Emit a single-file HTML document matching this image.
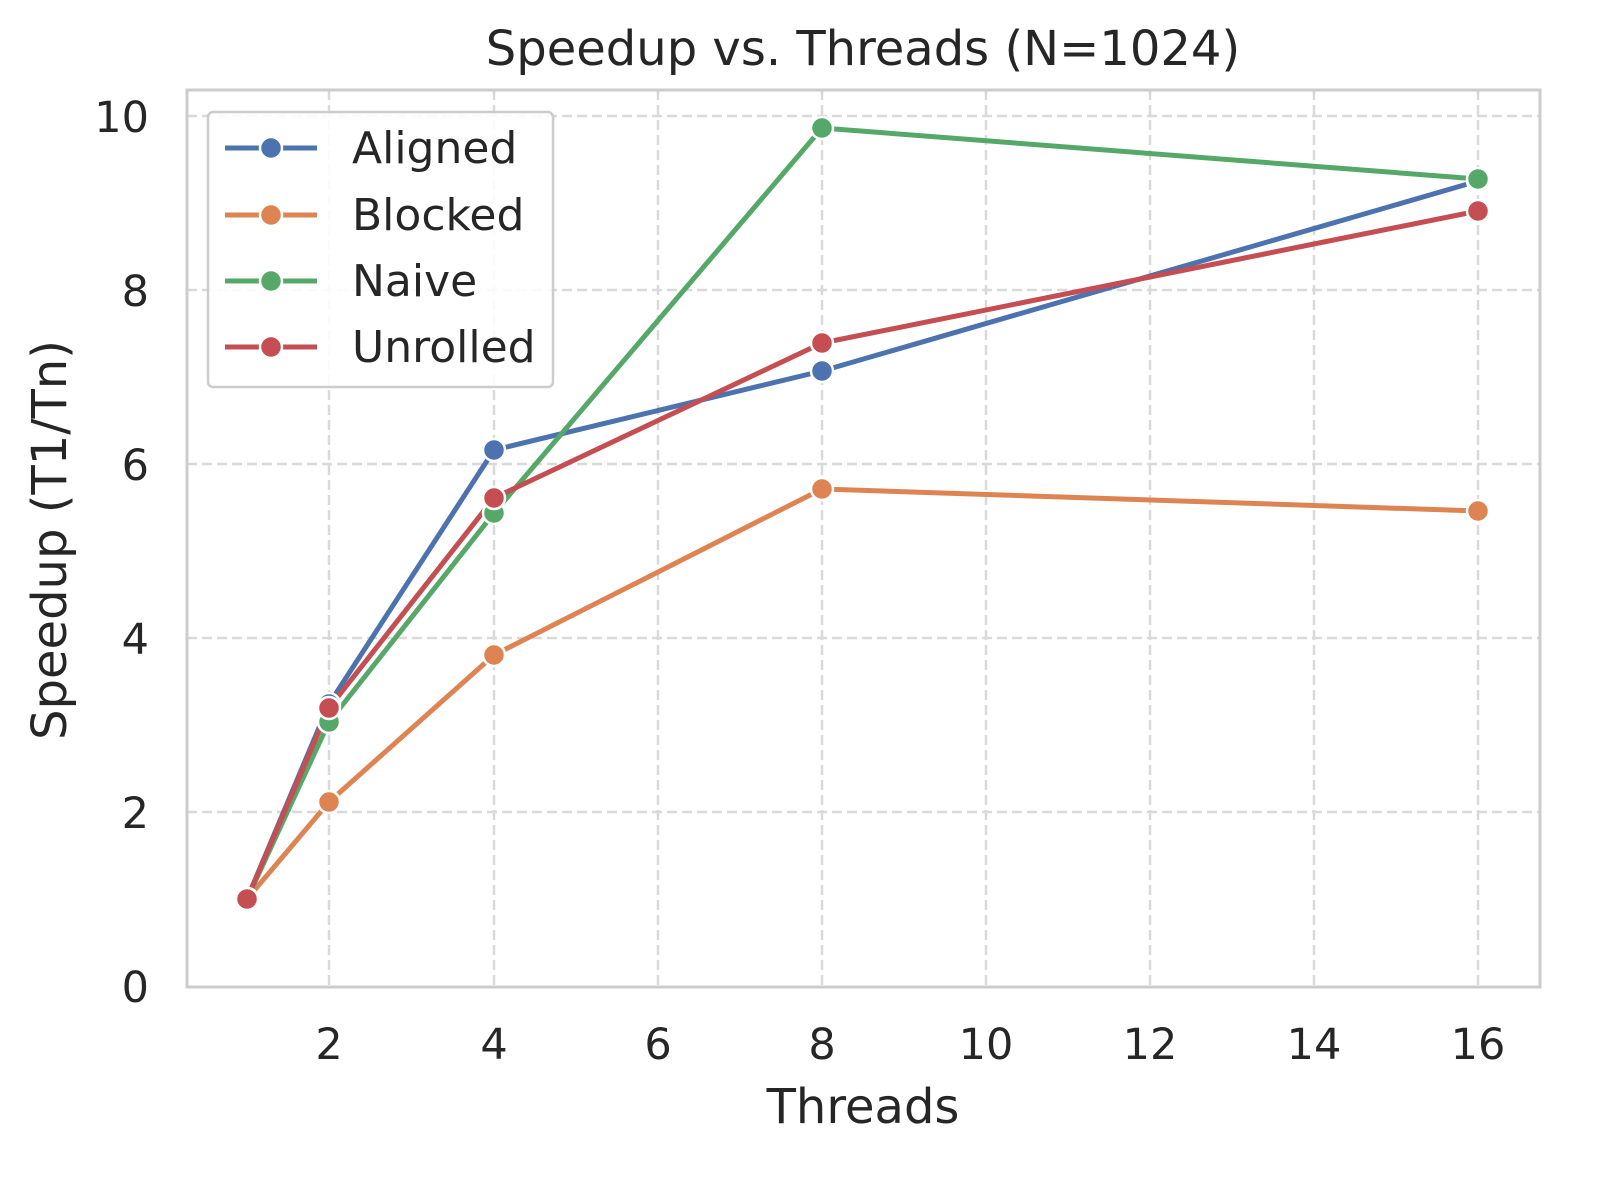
<!DOCTYPE html>
<html><head><meta charset="utf-8"><style>html,body{margin:0;padding:0;background:#fff}svg{display:block}</style></head>
<body>
<svg width="1617" height="1196" viewBox="0 0 1617 1196" xmlns="http://www.w3.org/2000/svg" font-family="'DejaVu Sans','Liberation Sans',sans-serif" fill="#262626">
<rect width="1617" height="1196" fill="#fff"/>
<g stroke="#d9d9d9" stroke-width="2.5" stroke-dasharray="10,5">
<line x1="329" y1="90" x2="329" y2="987"/><line x1="494" y1="90" x2="494" y2="987"/><line x1="658" y1="90" x2="658" y2="987"/><line x1="822" y1="90" x2="822" y2="987"/><line x1="986" y1="90" x2="986" y2="987"/><line x1="1150" y1="90" x2="1150" y2="987"/><line x1="1314" y1="90" x2="1314" y2="987"/><line x1="1478" y1="90" x2="1478" y2="987"/>
<line x1="187" y1="812" x2="1540" y2="812"/><line x1="187" y1="638" x2="1540" y2="638"/><line x1="187" y1="464" x2="1540" y2="464"/><line x1="187" y1="290" x2="1540" y2="290"/><line x1="187" y1="116" x2="1540" y2="116"/>
</g>
<rect x="187" y="90" width="1353" height="897" fill="none" stroke="#cccccc" stroke-width="3"/>
<g fill="none" stroke-width="5" stroke-linejoin="round">
<polyline stroke="#4C72B0" points="247,899 329,704 494,450 822,371 1478,181"/>
<polyline stroke="#DD8452" points="247,899 329,802 494,655 822,489 1478,511"/>
<polyline stroke="#55A868" points="247,899 329,722 494,513 822,128 1478,179"/>
<polyline stroke="#C44E52" points="247,899 329,708 494,498 822,343 1478,211"/>
</g>
<g stroke="#fff" stroke-width="2.5">
<g fill="#4C72B0"><circle cx="247" cy="899" r="11"/><circle cx="329" cy="704" r="11"/><circle cx="494" cy="450" r="11"/><circle cx="822" cy="371" r="11"/><circle cx="1478" cy="181" r="11"/></g>
<g fill="#DD8452"><circle cx="247" cy="899" r="11"/><circle cx="329" cy="802" r="11"/><circle cx="494" cy="655" r="11"/><circle cx="822" cy="489" r="11"/><circle cx="1478" cy="511" r="11"/></g>
<g fill="#55A868"><circle cx="247" cy="899" r="11"/><circle cx="329" cy="722" r="11"/><circle cx="494" cy="513" r="11"/><circle cx="822" cy="128" r="11"/><circle cx="1478" cy="179" r="11"/></g>
<g fill="#C44E52"><circle cx="247" cy="899" r="11"/><circle cx="329" cy="708" r="11"/><circle cx="494" cy="498" r="11"/><circle cx="822" cy="343" r="11"/><circle cx="1478" cy="211" r="11"/></g>
</g>
<rect x="208" y="112" width="345" height="275" rx="5" fill="#fff" fill-opacity="0.85" stroke="#cccccc" stroke-width="2.5"/>
<g stroke-width="5">
<line x1="225" y1="148" x2="317" y2="148" stroke="#4C72B0"/><circle cx="271" cy="148" r="11" fill="#4C72B0" stroke="#fff" stroke-width="2.5"/>
<line x1="225" y1="215" x2="317" y2="215" stroke="#DD8452"/><circle cx="271" cy="215" r="11" fill="#DD8452" stroke="#fff" stroke-width="2.5"/>
<line x1="225" y1="281" x2="317" y2="281" stroke="#55A868"/><circle cx="271" cy="281" r="11" fill="#55A868" stroke="#fff" stroke-width="2.5"/>
<line x1="225" y1="347" x2="317" y2="347" stroke="#C44E52"/><circle cx="271" cy="347" r="11" fill="#C44E52" stroke="#fff" stroke-width="2.5"/>
</g>
<g font-size="44">
<text x="352" y="163">Aligned</text><text x="352" y="230">Blocked</text><text x="352" y="296">Naive</text><text x="352" y="362">Unrolled</text>
</g>
<text x="863" y="65" font-size="48" text-anchor="middle">Speedup vs. Threads (N=1024)</text>
<g font-size="43" text-anchor="middle">
<text x="329" y="1059">2</text><text x="494" y="1059">4</text><text x="658" y="1059">6</text><text x="822" y="1059">8</text><text x="986" y="1059">10</text><text x="1150" y="1059">12</text><text x="1314" y="1059">14</text><text x="1478" y="1059">16</text>
</g>
<g font-size="43" text-anchor="end">
<text x="149" y="1002">0</text><text x="149" y="828">2</text><text x="149" y="654">4</text><text x="149" y="480">6</text><text x="149" y="306">8</text><text x="149" y="132">10</text>
</g>
<text x="863" y="1123" font-size="48" text-anchor="middle">Threads</text>
<text transform="translate(66,540) rotate(-90)" font-size="48" text-anchor="middle">Speedup (T1/Tn)</text>
</svg>
</body></html>
